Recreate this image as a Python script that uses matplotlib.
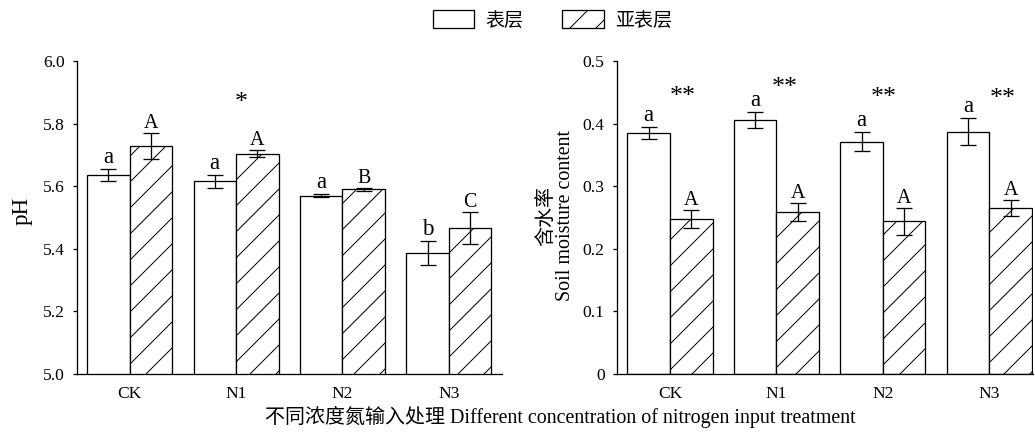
import matplotlib
matplotlib.use("Agg")
import matplotlib.pyplot as plt
import numpy as np

# ---- data ----
treatments = ["CK", "N1", "N2", "N3"]
layers = ["表层", "亚表层"]

ph_surface = [5.636, 5.616, 5.570, 5.387]
ph_surface_err = [0.020, 0.021, 0.005, 0.039]
ph_subsurface = [5.728, 5.704, 5.590, 5.466]
ph_subsurface_err = [0.042, 0.011, 0.005, 0.051]
ph_surface_letters = ["a", "a", "a", "b"]
ph_subsurface_letters = ["A", "A", "B", "C"]

moist_surface = [0.3855, 0.405, 0.371, 0.387]
moist_surface_err = [0.0096, 0.0128, 0.0154, 0.0213]
moist_subsurface = [0.248, 0.259, 0.244, 0.265]
moist_subsurface_err = [0.0146, 0.0138, 0.0213, 0.0133]
moist_surface_letters = ["a", "a", "a", "a"]
moist_subsurface_letters = ["A", "A", "A", "A"]

# significance marks between layers: (group index, x shift, height, text)
ph_sig = [(1, 0.044, 5.881, "*")]
moist_sig = [(0, 0.122, 0.451, "**"), (1, 0.078, 0.4645, "**"),
             (2, 0.009, 0.4484, "**"), (3, 0.128, 0.4468, "**")]

# ---- style ----
DPI = 78
PT = 72.0 / DPI          # points per pixel
plt.rcParams["font.family"] = ["Liberation Serif", "Noto Sans CJK SC"]
plt.rcParams["hatch.linewidth"] = 1.0 * PT
plt.rcParams["hatch.color"] = "black"

BIG = 20 * PT
LOWER = 23 * PT
STAR = 26 * PT
TICK = 17.5 * PT
LW = 1.3 * PT

fig = plt.figure(figsize=(1035 / DPI, 432 / DPI), dpi=DPI)
W, H = 1035.0, 432.0
ax1 = fig.add_axes([76.5 / W, 1 - 374 / H, 425.5 / W, 313 / H])
ax2 = fig.add_axes([616.7 / W, 1 - 374 / H, 416.3 / W, 313 / H])

x = np.arange(len(treatments))
bw = 0.4


def draw_panel(ax, s, se, b, be, sl, bl, sig):
    err_kw = dict(ecolor="black", elinewidth=LW, capsize=8 * PT, capthick=LW)
    ax.bar(x - bw / 2, s, bw, yerr=se, color="white", edgecolor="black",
           linewidth=LW, error_kw=err_kw, label=layers[0], zorder=2)
    ax.bar(x + bw / 2, b, bw, yerr=be, color="white", edgecolor="black",
           linewidth=LW, hatch="/", error_kw=err_kw, label=layers[1], zorder=2)
    for i in range(len(x)):
        ax.annotate(sl[i], (x[i] - bw / 2, s[i] + se[i]), xytext=(0, 6 * PT),
                    textcoords="offset points", ha="center", va="baseline",
                    fontsize=LOWER)
        ax.annotate(bl[i], (x[i] + bw / 2, b[i] + be[i]), xytext=(0, 5 * PT),
                    textcoords="offset points", ha="center", va="baseline",
                    fontsize=BIG)
    for gi, dx, yv, txt in sig:
        ax.annotate(txt, (x[gi] + dx, yv), xytext=(0, -11 * PT),
                    textcoords="offset points", ha="center", va="baseline",
                    fontsize=STAR)
    for sp in ("top", "right"):
        ax.spines[sp].set_visible(False)
    for sp in ("left", "bottom"):
        ax.spines[sp].set_linewidth(LW)
    ax.set_xticks(x)
    ax.set_xticklabels(treatments)
    ax.tick_params(axis="x", length=0, pad=12 * PT, labelsize=TICK)
    ax.tick_params(axis="y", direction="out", length=4 * PT, width=LW,
                   pad=8 * PT, labelsize=TICK)


draw_panel(ax1, ph_surface, ph_surface_err, ph_subsurface, ph_subsurface_err,
           ph_surface_letters, ph_subsurface_letters, ph_sig)
ax1.set_xlim(-0.5, 3.5)
ax1.set_ylim(5.0, 6.0)
ax1.set_yticks(np.arange(5.0, 6.01, 0.2))
ax1.set_yticklabels([f"{v:.1f}" for v in np.arange(5.0, 6.01, 0.2)])
ax1.set_ylabel("pH", fontsize=23 * PT, va="center")
ax1.yaxis.set_label_coords(-0.128, 0.52)

draw_panel(ax2, moist_surface, moist_surface_err, moist_subsurface,
           moist_subsurface_err, moist_surface_letters,
           moist_subsurface_letters, moist_sig)
ax2.set_xlim(-0.5, 3.41)
ax2.set_ylim(0, 0.5)
ax2.set_yticks(np.arange(0, 0.51, 0.1))
ax2.set_yticklabels(["0"] + [f"{v:.1f}" for v in np.arange(0.1, 0.51, 0.1)])
ax2.set_ylabel("含水率\nSoil moisture content", fontsize=BIG, linespacing=1.0,
               va="center")
ax2.yaxis.set_label_coords(-0.146, 0.505)

fig.text(560 / W, 1 - 417 / H,
         "不同浓度氮输入处理 Different concentration of nitrogen input treatment",
         ha="center", va="center", fontsize=BIG)

handles, labels = ax1.get_legend_handles_labels()
fig.legend(handles, labels, loc="center", bbox_to_anchor=(552.5 / W, 1 - 20 / H),
           ncol=2, frameon=False, fontsize=19 * PT, handlelength=2.16,
           handleheight=1.05, handletextpad=0.63, columnspacing=2.05,
           borderpad=0)

fig.savefig("out.png", dpi=DPI)
